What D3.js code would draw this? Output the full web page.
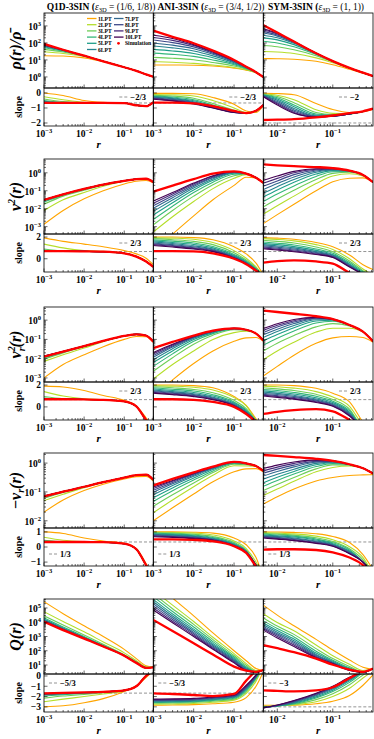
<!DOCTYPE html>
<html>
<head>
<meta charset="utf-8">
<script src="https://cdn.jsdelivr.net/npm/d3@7"></script>
<style>
  body { margin: 0; background: #fff; }
  svg { display: block; }
  text { font-family: "Liberation Serif", "Times New Roman", serif; font-weight: bold; fill: #000; }
</style>
</head>
<body>
<script>
// radius grids (Q1D / ANI share one, SYM starts later)
var rA = [0.001, 0.003, 0.01, 0.03, 0.1, 0.2, 0.35, 0.53];
var rB = [0.0056, 0.01, 0.02, 0.05, 0.1, 0.2, 0.35, 0.53];

var lptNames = ['1LPT', '2LPT', '3LPT', '4LPT', '5LPT', '6LPT', '7LPT', '8LPT', '9LPT', '10LPT'];
var lptColors = ['#ffa500', '#b5de2b', '#6ece58', '#35b779', '#1f9e89', '#26828e', '#31688e', '#3e4989', '#482878', '#440154'];
var columnNames = ['Q1D-3SIN', 'ANI-3SIN', 'SYM-3SIN'];
var columnEps = ['(1/6, 1/8))', '(3/4, 1/2))', '(1, 1))'];

// ---- row 1: density, log10 values ----
var rhoQ1DLog = [
  [1.25, 1.23, 1.12, 0.90, 0.58, 0.37, 0.16, 0.02],
  [1.48, 1.38, 1.20, 0.92, 0.57, 0.36, 0.15, 0.01],
  [1.62, 1.47, 1.23, 0.92, 0.57, 0.36, 0.15, 0.01],
  [1.72, 1.52, 1.24, 0.92, 0.57, 0.36, 0.15, 0.01],
  [1.78, 1.55, 1.25, 0.92, 0.57, 0.36, 0.15, 0.01],
  [1.82, 1.56, 1.25, 0.92, 0.57, 0.36, 0.15, 0.01],
  [1.85, 1.57, 1.25, 0.92, 0.57, 0.36, 0.15, 0.01],
  [1.87, 1.58, 1.25, 0.92, 0.57, 0.36, 0.15, 0.01],
  [1.89, 1.59, 1.25, 0.92, 0.57, 0.36, 0.15, 0.01],
  [1.90, 1.59, 1.25, 0.92, 0.57, 0.36, 0.15, 0.01]];
var rhoQ1DSimLog = [1.94, 1.60, 1.25, 0.92, 0.57, 0.36, 0.15, 0.01];
var rhoANILog = [
  [0.70, 0.70, 0.69, 0.64, 0.52, 0.40, 0.24, 0.00],
  [0.90, 0.86, 0.80, 0.70, 0.56, 0.42, 0.25, 0.00],
  [1.15, 1.10, 1.01, 0.85, 0.64, 0.46, 0.26, 0.00],
  [1.40, 1.33, 1.21, 1.00, 0.72, 0.50, 0.27, 0.00],
  [1.62, 1.53, 1.38, 1.13, 0.78, 0.53, 0.28, 0.00],
  [1.82, 1.71, 1.53, 1.24, 0.84, 0.55, 0.28, 0.00],
  [2.00, 1.87, 1.66, 1.33, 0.88, 0.57, 0.28, 0.00],
  [2.17, 2.02, 1.77, 1.40, 0.92, 0.58, 0.28, 0.00],
  [2.32, 2.15, 1.85, 1.45, 0.95, 0.59, 0.28, 0.00],
  [2.45, 2.26, 1.90, 1.49, 0.97, 0.60, 0.28, 0.00]];
var rhoANISimLog = [2.72, 2.36, 1.98, 1.55, 1.00, 0.60, 0.28, 0.00];
var rhoSYMLog = [
  [1.08, 1.07, 1.04, 0.92, 0.72, 0.45, 0.22, 0.04],
  [1.50, 1.47, 1.38, 1.12, 0.84, 0.50, 0.24, 0.05],
  [1.85, 1.78, 1.60, 1.25, 0.89, 0.52, 0.25, 0.05],
  [2.10, 2.00, 1.78, 1.32, 0.91, 0.53, 0.25, 0.05],
  [2.30, 2.18, 1.90, 1.36, 0.92, 0.53, 0.25, 0.05],
  [2.45, 2.30, 1.98, 1.38, 0.93, 0.53, 0.25, 0.05],
  [2.58, 2.40, 2.03, 1.39, 0.93, 0.53, 0.25, 0.05],
  [2.68, 2.47, 2.06, 1.39, 0.93, 0.53, 0.25, 0.05],
  [2.76, 2.53, 2.07, 1.39, 0.93, 0.53, 0.25, 0.05],
  [2.83, 2.57, 2.08, 1.39, 0.93, 0.53, 0.25, 0.05]];
var rhoSYMSimLog = [3.05, 2.61, 2.08, 1.39, 0.93, 0.53, 0.25, 0.05];

var rhoSlopeQ1D = [
  [0.00, -0.17, -0.50, -0.63, -0.68, -0.82, -0.88, -0.62],
  [-0.25, -0.45, -0.62, -0.66, -0.68, -0.82, -0.88, -0.62],
  [-0.40, -0.58, -0.65, -0.66, -0.68, -0.82, -0.88, -0.62],
  [-0.50, -0.63, -0.66, -0.66, -0.68, -0.82, -0.88, -0.62],
  [-0.56, -0.65, -0.66, -0.66, -0.68, -0.82, -0.88, -0.62],
  [-0.60, -0.66, -0.66, -0.66, -0.68, -0.82, -0.88, -0.62],
  [-0.62, -0.66, -0.66, -0.66, -0.68, -0.82, -0.88, -0.62],
  [-0.63, -0.66, -0.66, -0.66, -0.68, -0.82, -0.88, -0.62],
  [-0.64, -0.66, -0.66, -0.66, -0.68, -0.82, -0.88, -0.62],
  [-0.65, -0.66, -0.66, -0.66, -0.68, -0.82, -0.88, -0.62]];
var rhoSlopeQ1DSim = [-0.66, -0.66, -0.66, -0.66, -0.68, -0.82, -0.88, -0.62];
var rhoSlopeANI = [
  [-0.03, -0.03, -0.05, -0.30, -0.75, -1.20, -1.30, -0.85],
  [-0.10, -0.12, -0.20, -0.50, -1.00, -1.30, -1.25, -0.82],
  [-0.15, -0.20, -0.35, -0.70, -1.15, -1.32, -1.20, -0.82],
  [-0.20, -0.27, -0.45, -0.80, -1.20, -1.33, -1.19, -0.81],
  [-0.24, -0.33, -0.52, -0.87, -1.24, -1.34, -1.18, -0.80],
  [-0.28, -0.38, -0.58, -0.92, -1.26, -1.34, -1.18, -0.80],
  [-0.32, -0.43, -0.63, -0.95, -1.28, -1.34, -1.18, -0.80],
  [-0.35, -0.47, -0.67, -0.97, -1.29, -1.34, -1.18, -0.80],
  [-0.38, -0.50, -0.70, -0.99, -1.30, -1.34, -1.18, -0.80],
  [-0.42, -0.53, -0.73, -1.00, -1.30, -1.34, -1.18, -0.80]];
var rhoSlopeANISim = [-0.65, -0.65, -0.70, -0.88, -1.20, -1.34, -1.18, -0.80];
var rhoSlopeSYM = [
  [-0.02, -0.04, -0.12, -0.70, -1.10, -1.30, -1.25, -1.08],
  [-0.07, -0.15, -0.45, -1.12, -1.36, -1.38, -1.24, -1.06],
  [-0.10, -0.24, -0.65, -1.30, -1.43, -1.39, -1.23, -1.05],
  [-0.12, -0.32, -0.80, -1.40, -1.47, -1.40, -1.23, -1.05],
  [-0.14, -0.40, -0.92, -1.47, -1.50, -1.40, -1.23, -1.05],
  [-0.16, -0.48, -1.03, -1.52, -1.52, -1.40, -1.23, -1.05],
  [-0.18, -0.57, -1.13, -1.56, -1.53, -1.40, -1.23, -1.05],
  [-0.20, -0.65, -1.22, -1.58, -1.54, -1.40, -1.23, -1.05],
  [-0.23, -0.72, -1.30, -1.60, -1.55, -1.40, -1.23, -1.05],
  [-0.25, -0.80, -1.35, -1.60, -1.55, -1.40, -1.23, -1.05]];
var rhoSlopeSYMSim = [-1.80, -1.78, -1.74, -1.62, -1.50, -1.35, -1.22, -1.05];

// ---- row 2: v^2 ----
var v2Q1DLog = [
  [-2.87, -2.10, -1.45, -1.00, -0.62, -0.47, -0.43, -0.56],
  [-2.10, -1.50, -1.10, -0.75, -0.47, -0.36, -0.34, -0.53],
  [-1.75, -1.30, -0.97, -0.68, -0.46, -0.35, -0.33, -0.52],
  [-1.62, -1.25, -0.93, -0.67, -0.45, -0.35, -0.33, -0.52],
  [-1.56, -1.22, -0.91, -0.66, -0.45, -0.35, -0.33, -0.52],
  [-1.53, -1.21, -0.90, -0.66, -0.45, -0.35, -0.33, -0.52],
  [-1.52, -1.20, -0.90, -0.66, -0.45, -0.35, -0.33, -0.52],
  [-1.51, -1.20, -0.90, -0.66, -0.45, -0.35, -0.33, -0.52],
  [-1.50, -1.19, -0.90, -0.66, -0.45, -0.35, -0.33, -0.52],
  [-1.49, -1.19, -0.89, -0.66, -0.45, -0.35, -0.33, -0.52]];
var v2Q1DSimLog = [-1.51, -1.20, -0.90, -0.66, -0.45, -0.35, -0.33, -0.52];
var v2ANILog = [
  [-4.40, -3.42, -2.40, -1.50, -0.70, -0.25, -0.28, -0.56],
  [-3.30, -2.45, -1.60, -0.88, -0.30, -0.10, -0.27, -0.56],
  [-2.90, -2.10, -1.30, -0.66, -0.16, -0.06, -0.28, -0.56],
  [-2.60, -1.86, -1.10, -0.52, -0.08, -0.05, -0.28, -0.56],
  [-2.35, -1.67, -0.96, -0.42, -0.02, -0.04, -0.28, -0.56],
  [-2.15, -1.52, -0.85, -0.34, 0.01, -0.04, -0.28, -0.56],
  [-1.98, -1.39, -0.76, -0.28, 0.03, -0.04, -0.28, -0.56],
  [-1.83, -1.28, -0.69, -0.23, 0.05, -0.04, -0.28, -0.56],
  [-1.70, -1.18, -0.62, -0.19, 0.06, -0.04, -0.28, -0.56],
  [-1.58, -1.10, -0.57, -0.16, 0.07, -0.04, -0.28, -0.56]];
var v2ANISimLog = [-1.05, -0.71, -0.35, -0.05, 0.08, -0.04, -0.28, -0.56];
var v2SYMLog = [
  [-2.83, -2.33, -1.75, -1.00, -0.50, -0.30, -0.28, -0.52],
  [-2.30, -1.83, -1.30, -0.60, -0.18, -0.05, -0.18, -0.52],
  [-1.90, -1.46, -0.97, -0.37, -0.03, 0.03, -0.13, -0.52],
  [-1.60, -1.18, -0.73, -0.20, 0.06, 0.07, -0.12, -0.52],
  [-1.35, -0.96, -0.53, -0.07, 0.12, 0.09, -0.12, -0.52],
  [-1.13, -0.77, -0.37, 0.03, 0.16, 0.10, -0.12, -0.52],
  [-0.93, -0.60, -0.23, 0.10, 0.19, 0.11, -0.12, -0.52],
  [-0.75, -0.45, -0.10, 0.16, 0.21, 0.12, -0.12, -0.52],
  [-0.58, -0.31, 0.00, 0.20, 0.23, 0.12, -0.12, -0.52],
  [-0.42, -0.18, 0.08, 0.23, 0.24, 0.12, -0.12, -0.52]];
var v2SYMSimLog = [0.47, 0.42, 0.37, 0.32, 0.26, 0.12, -0.12, -0.52];

var v2SlopeQ1D = [
  [1.92, 1.60, 1.35, 1.10, 0.75, 0.45, 0.05, -0.55],
  [1.35, 1.00, 0.75, 0.68, 0.52, 0.22, -0.22, -0.72],
  [0.90, 0.73, 0.69, 0.66, 0.50, 0.20, -0.25, -0.75],
  [0.80, 0.70, 0.68, 0.65, 0.50, 0.20, -0.25, -0.75],
  [0.75, 0.70, 0.68, 0.65, 0.50, 0.20, -0.25, -0.75],
  [0.73, 0.70, 0.68, 0.65, 0.50, 0.20, -0.25, -0.75],
  [0.72, 0.70, 0.68, 0.65, 0.50, 0.20, -0.25, -0.75],
  [0.72, 0.70, 0.68, 0.65, 0.50, 0.20, -0.25, -0.75],
  [0.71, 0.70, 0.68, 0.65, 0.50, 0.20, -0.25, -0.75],
  [0.71, 0.70, 0.68, 0.65, 0.50, 0.20, -0.25, -0.75]];
var v2SlopeQ1DSim = [0.70, 0.70, 0.68, 0.65, 0.50, 0.20, -0.25, -0.75];
var v2SlopeANI = [
  [2.00, 2.00, 1.95, 1.75, 1.10, 0.45, -0.40, -1.50],
  [1.95, 1.90, 1.80, 1.50, 0.75, 0.05, -0.75, -1.60],
  [1.85, 1.75, 1.60, 1.30, 0.55, -0.12, -0.85, -1.60],
  [1.75, 1.62, 1.45, 1.12, 0.40, -0.22, -0.92, -1.60],
  [1.65, 1.50, 1.32, 1.00, 0.30, -0.30, -0.97, -1.60],
  [1.55, 1.40, 1.20, 0.90, 0.22, -0.35, -1.00, -1.60],
  [1.45, 1.30, 1.10, 0.82, 0.16, -0.40, -1.03, -1.60],
  [1.37, 1.22, 1.02, 0.76, 0.12, -0.42, -1.05, -1.60],
  [1.30, 1.15, 0.96, 0.70, 0.08, -0.45, -1.07, -1.60],
  [1.22, 1.08, 0.90, 0.66, 0.05, -0.47, -1.08, -1.60]];
var v2SlopeANISim = [0.70, 0.70, 0.68, 0.50, 0.00, -0.50, -1.10, -1.60];
var v2SlopeSYM = [
  [1.95, 1.90, 1.80, 1.50, 1.10, 0.35, -0.55, -1.00],
  [1.85, 1.78, 1.65, 1.30, 0.85, 0.00, -0.95, -1.50],
  [1.70, 1.60, 1.45, 1.08, 0.65, -0.20, -1.10, -1.70],
  [1.55, 1.43, 1.27, 0.90, 0.50, -0.35, -1.20, -1.70],
  [1.42, 1.30, 1.12, 0.77, 0.40, -0.47, -1.30, -1.70],
  [1.30, 1.18, 1.00, 0.66, 0.32, -0.55, -1.35, -1.70],
  [1.20, 1.07, 0.90, 0.57, 0.25, -0.62, -1.40, -1.70],
  [1.10, 0.97, 0.80, 0.50, 0.20, -0.68, -1.40, -1.70],
  [1.00, 0.88, 0.72, 0.44, 0.15, -0.72, -1.40, -1.70],
  [0.92, 0.80, 0.65, 0.39, 0.11, -0.76, -1.40, -1.70]];
var v2SlopeSYMSim = [-0.35, -0.22, -0.15, -0.25, -0.45, -1.30, -1.80, -2.00];

// ---- row 3: v_r^2 ----
var vr2Q1DLog = [
  [-3.00, -2.30, -1.80, -1.38, -1.00, -0.85, -0.86, -1.15],
  [-2.14, -1.80, -1.45, -1.12, -0.84, -0.75, -0.80, -1.12],
  [-2.02, -1.70, -1.38, -1.09, -0.83, -0.74, -0.80, -1.12],
  [-1.96, -1.66, -1.36, -1.08, -0.82, -0.74, -0.80, -1.12],
  [-1.93, -1.64, -1.35, -1.08, -0.82, -0.74, -0.80, -1.12],
  [-1.90, -1.63, -1.35, -1.08, -0.82, -0.74, -0.80, -1.12],
  [-1.89, -1.63, -1.35, -1.08, -0.82, -0.74, -0.80, -1.12],
  [-1.88, -1.63, -1.35, -1.08, -0.82, -0.74, -0.80, -1.12],
  [-1.87, -1.63, -1.35, -1.08, -0.82, -0.74, -0.80, -1.12],
  [-1.86, -1.62, -1.35, -1.08, -0.82, -0.74, -0.80, -1.12]];
var vr2Q1DSimLog = [-1.90, -1.63, -1.35, -1.08, -0.82, -0.74, -0.80, -1.12];
var vr2ANILog = [
  [-3.95, -3.10, -2.25, -1.60, -1.10, -0.92, -0.90, -1.10],
  [-3.05, -2.30, -1.60, -1.00, -0.65, -0.58, -0.70, -1.07],
  [-2.65, -1.95, -1.25, -0.78, -0.50, -0.52, -0.70, -1.05],
  [-2.40, -1.75, -1.10, -0.70, -0.47, -0.51, -0.70, -1.05],
  [-2.20, -1.60, -1.00, -0.65, -0.45, -0.50, -0.70, -1.05],
  [-2.05, -1.48, -0.94, -0.61, -0.44, -0.50, -0.70, -1.05],
  [-1.93, -1.40, -0.90, -0.59, -0.44, -0.50, -0.70, -1.05],
  [-1.83, -1.34, -0.87, -0.58, -0.43, -0.50, -0.70, -1.05],
  [-1.75, -1.29, -0.85, -0.57, -0.43, -0.50, -0.70, -1.05],
  [-1.68, -1.25, -0.84, -0.56, -0.43, -0.50, -0.70, -1.05]];
var vr2ANISimLog = [-1.45, -1.13, -0.80, -0.55, -0.43, -0.50, -0.70, -1.05];
var vr2SYMLog = [
  [-2.90, -2.40, -1.82, -1.20, -0.92, -0.85, -0.90, -1.15],
  [-2.05, -1.60, -1.15, -0.62, -0.42, -0.42, -0.62, -1.10],
  [-1.60, -1.20, -0.80, -0.35, -0.18, -0.30, -0.60, -1.10],
  [-1.30, -0.94, -0.56, -0.15, -0.06, -0.26, -0.60, -1.10],
  [-1.08, -0.75, -0.40, -0.05, -0.01, -0.26, -0.60, -1.10],
  [-0.90, -0.59, -0.28, 0.02, 0.02, -0.26, -0.60, -1.10],
  [-0.76, -0.47, -0.18, 0.07, 0.03, -0.26, -0.60, -1.10],
  [-0.64, -0.36, -0.10, 0.10, 0.04, -0.26, -0.60, -1.10],
  [-0.53, -0.27, -0.03, 0.12, 0.04, -0.26, -0.60, -1.10],
  [-0.44, -0.19, 0.03, 0.14, 0.05, -0.26, -0.60, -1.10]];
var vr2SYMSimLog = [0.49, 0.42, 0.33, 0.20, 0.05, -0.25, -0.60, -1.10];

var vr2SlopeQ1D = [
  [1.90, 1.82, 1.50, 1.05, 0.60, 0.10, -1.00, -1.90],
  [1.40, 1.00, 0.75, 0.66, 0.50, 0.05, -1.20, -2.00],
  [0.95, 0.75, 0.68, 0.65, 0.50, 0.05, -1.20, -2.00],
  [0.82, 0.70, 0.68, 0.65, 0.50, 0.05, -1.20, -2.00],
  [0.76, 0.70, 0.68, 0.65, 0.50, 0.05, -1.20, -2.00],
  [0.73, 0.70, 0.68, 0.65, 0.50, 0.05, -1.20, -2.00],
  [0.72, 0.70, 0.68, 0.65, 0.50, 0.05, -1.20, -2.00],
  [0.71, 0.70, 0.68, 0.65, 0.50, 0.05, -1.20, -2.00],
  [0.71, 0.70, 0.68, 0.65, 0.50, 0.05, -1.20, -2.00],
  [0.70, 0.70, 0.68, 0.65, 0.50, 0.05, -1.20, -2.00]];
var vr2SlopeQ1DSim = [0.70, 0.70, 0.68, 0.65, 0.50, 0.05, -1.20, -2.00];
var vr2SlopeANI = [
  [2.00, 2.00, 1.95, 1.75, 0.95, 0.15, -1.10, -2.00],
  [1.95, 1.90, 1.80, 1.55, 0.85, 0.10, -1.20, -2.00],
  [1.85, 1.75, 1.60, 1.30, 0.60, -0.15, -1.25, -2.00],
  [1.75, 1.62, 1.45, 1.12, 0.45, -0.28, -1.28, -2.00],
  [1.65, 1.50, 1.32, 0.99, 0.35, -0.37, -1.30, -2.00],
  [1.55, 1.40, 1.21, 0.89, 0.27, -0.44, -1.30, -2.00],
  [1.47, 1.32, 1.12, 0.81, 0.20, -0.50, -1.30, -2.00],
  [1.40, 1.25, 1.05, 0.75, 0.15, -0.54, -1.30, -2.00],
  [1.32, 1.18, 0.99, 0.70, 0.11, -0.58, -1.30, -2.00],
  [1.25, 1.12, 0.94, 0.66, 0.08, -0.60, -1.30, -2.00]];
var vr2SlopeANISim = [0.70, 0.70, 0.65, 0.45, 0.00, -0.65, -1.40, -2.00];
var vr2SlopeSYM = [
  [2.00, 2.00, 1.95, 1.70, 1.25, 0.45, -1.40, -2.50],
  [1.90, 1.85, 1.72, 1.40, 0.90, 0.05, -1.70, -2.50],
  [1.75, 1.65, 1.50, 1.15, 0.68, -0.20, -2.00, -2.50],
  [1.60, 1.50, 1.32, 0.97, 0.52, -0.35, -2.00, -2.50],
  [1.47, 1.36, 1.18, 0.83, 0.40, -0.47, -2.00, -2.50],
  [1.35, 1.24, 1.06, 0.72, 0.30, -0.57, -2.00, -2.50],
  [1.25, 1.13, 0.95, 0.62, 0.22, -0.65, -2.00, -2.50],
  [1.15, 1.03, 0.86, 0.54, 0.15, -0.72, -2.00, -2.50],
  [1.07, 0.95, 0.78, 0.47, 0.10, -0.78, -2.00, -2.50],
  [1.00, 0.87, 0.71, 0.41, 0.05, -0.83, -2.00, -2.50]];
var vr2SlopeSYMSim = [-0.65, -0.45, -0.30, -0.20, -0.40, -1.20, -2.00, -2.50];

// ---- row 4: -v_r ----
var vrQ1DLog = [
  [-1.70, -1.28, -0.95, -0.73, -0.55, -0.47, -0.46, -0.62],
  [-1.30, -1.08, -0.85, -0.67, -0.50, -0.42, -0.40, -0.58],
  [-1.22, -1.02, -0.83, -0.66, -0.50, -0.42, -0.40, -0.58],
  [-1.19, -1.00, -0.82, -0.66, -0.50, -0.42, -0.40, -0.58],
  [-1.17, -0.99, -0.82, -0.66, -0.50, -0.42, -0.40, -0.58],
  [-1.16, -0.99, -0.82, -0.66, -0.50, -0.42, -0.40, -0.58],
  [-1.16, -0.99, -0.82, -0.66, -0.50, -0.42, -0.40, -0.58],
  [-1.15, -0.99, -0.82, -0.66, -0.50, -0.42, -0.40, -0.58],
  [-1.15, -0.99, -0.82, -0.66, -0.50, -0.42, -0.40, -0.58],
  [-1.14, -0.99, -0.82, -0.66, -0.50, -0.42, -0.40, -0.58]];
var vrQ1DSimLog = [-1.16, -0.99, -0.82, -0.66, -0.50, -0.42, -0.40, -0.58];
var vrANILog = [
  [-2.00, -1.55, -1.07, -0.65, -0.30, -0.20, -0.19, -0.30],
  [-1.72, -1.28, -0.82, -0.42, -0.09, -0.10, -0.12, -0.27],
  [-1.50, -1.10, -0.69, -0.33, -0.04, -0.06, -0.10, -0.27],
  [-1.33, -0.96, -0.59, -0.27, -0.01, -0.03, -0.10, -0.27],
  [-1.20, -0.86, -0.52, -0.22, 0.01, -0.02, -0.10, -0.27],
  [-1.10, -0.78, -0.46, -0.19, 0.02, -0.01, -0.10, -0.27],
  [-1.01, -0.72, -0.42, -0.17, 0.03, -0.01, -0.10, -0.27],
  [-0.94, -0.67, -0.39, -0.15, 0.03, -0.01, -0.10, -0.27],
  [-0.88, -0.63, -0.37, -0.14, 0.04, -0.01, -0.10, -0.27],
  [-0.83, -0.60, -0.35, -0.13, 0.04, -0.01, -0.10, -0.27]];
var vrANISimLog = [-0.77, -0.55, -0.32, -0.12, 0.04, -0.01, -0.10, -0.27];
var vrSYMLog = [
  [-1.42, -1.17, -0.90, -0.62, -0.50, -0.43, -0.41, -0.40],
  [-1.12, -0.90, -0.63, -0.30, -0.15, -0.10, -0.18, -0.36],
  [-0.95, -0.74, -0.50, -0.20, -0.06, -0.07, -0.18, -0.36],
  [-0.80, -0.60, -0.38, -0.12, -0.02, -0.05, -0.18, -0.36],
  [-0.68, -0.49, -0.29, -0.06, 0.01, -0.05, -0.18, -0.36],
  [-0.56, -0.39, -0.21, -0.01, 0.03, -0.05, -0.18, -0.36],
  [-0.45, -0.29, -0.13, 0.03, 0.05, -0.05, -0.18, -0.36],
  [-0.35, -0.21, -0.07, 0.06, 0.06, -0.05, -0.18, -0.36],
  [-0.27, -0.14, -0.01, 0.09, 0.07, -0.05, -0.18, -0.36],
  [-0.19, -0.07, 0.04, 0.11, 0.08, -0.05, -0.18, -0.36]];
var vrSYMSimLog = [0.28, 0.25, 0.21, 0.15, 0.08, -0.04, -0.18, -0.36];

var vrSlopeQ1D = [
  [1.00, 0.90, 0.60, 0.40, 0.25, -0.10, -1.10, -2.00],
  [0.65, 0.45, 0.36, 0.33, 0.22, -0.15, -1.20, -2.00],
  [0.45, 0.36, 0.34, 0.33, 0.22, -0.15, -1.20, -2.00],
  [0.40, 0.35, 0.33, 0.32, 0.22, -0.15, -1.20, -2.00],
  [0.37, 0.34, 0.33, 0.32, 0.22, -0.15, -1.20, -2.00],
  [0.36, 0.34, 0.33, 0.32, 0.22, -0.15, -1.20, -2.00],
  [0.35, 0.34, 0.33, 0.32, 0.22, -0.15, -1.20, -2.00],
  [0.35, 0.33, 0.33, 0.32, 0.22, -0.15, -1.20, -2.00],
  [0.34, 0.33, 0.33, 0.32, 0.22, -0.15, -1.20, -2.00],
  [0.34, 0.33, 0.33, 0.32, 0.22, -0.15, -1.20, -2.00]];
var vrSlopeQ1DSim = [0.33, 0.33, 0.33, 0.32, 0.22, -0.15, -1.20, -2.00];
var vrSlopeANI = [
  [1.00, 1.00, 0.98, 0.92, 0.60, 0.15, -0.70, -2.00],
  [0.98, 0.96, 0.92, 0.80, 0.40, -0.10, -1.00, -2.00],
  [0.95, 0.92, 0.85, 0.70, 0.30, -0.20, -1.20, -2.00],
  [0.92, 0.87, 0.79, 0.63, 0.23, -0.25, -1.20, -2.00],
  [0.88, 0.82, 0.74, 0.58, 0.18, -0.28, -1.20, -2.00],
  [0.84, 0.78, 0.70, 0.54, 0.15, -0.30, -1.20, -2.00],
  [0.80, 0.74, 0.66, 0.50, 0.12, -0.32, -1.20, -2.00],
  [0.76, 0.70, 0.62, 0.48, 0.10, -0.34, -1.20, -2.00],
  [0.72, 0.67, 0.59, 0.46, 0.08, -0.35, -1.20, -2.00],
  [0.68, 0.64, 0.56, 0.44, 0.07, -0.36, -1.20, -2.00]];
var vrSlopeANISim = [0.50, 0.50, 0.47, 0.38, 0.05, -0.40, -1.30, -2.00];
var vrSlopeSYM = [
  [1.00, 0.99, 0.97, 0.88, 0.70, 0.30, -0.50, -1.50],
  [0.95, 0.92, 0.87, 0.72, 0.48, 0.02, -0.70, -1.80],
  [0.90, 0.86, 0.79, 0.61, 0.36, -0.12, -0.85, -1.80],
  [0.85, 0.80, 0.72, 0.53, 0.28, -0.20, -1.00, -1.80],
  [0.80, 0.74, 0.66, 0.46, 0.22, -0.27, -1.00, -1.80],
  [0.75, 0.69, 0.60, 0.40, 0.17, -0.32, -1.00, -1.80],
  [0.71, 0.64, 0.55, 0.35, 0.13, -0.36, -1.00, -1.80],
  [0.67, 0.60, 0.50, 0.31, 0.10, -0.40, -1.00, -1.80],
  [0.63, 0.56, 0.46, 0.27, 0.07, -0.43, -1.00, -1.80],
  [0.60, 0.52, 0.42, 0.24, 0.05, -0.45, -1.00, -1.80]];
var vrSlopeSYMSim = [-0.17, -0.15, -0.15, -0.20, -0.35, -0.70, -1.20, -2.00];

// ---- row 5: Q ----
var qQ1DLog = [
  [5.44, 4.60, 3.75, 3.00, 2.10, 1.45, 0.95, 0.85],
  [4.74, 4.05, 3.33, 2.62, 1.85, 1.30, 0.88, 0.84],
  [4.45, 3.80, 3.10, 2.45, 1.72, 1.23, 0.84, 0.84],
  [4.30, 3.67, 3.00, 2.38, 1.68, 1.19, 0.82, 0.84],
  [4.22, 3.60, 2.95, 2.35, 1.67, 1.17, 0.81, 0.84],
  [4.17, 3.55, 2.92, 2.33, 1.66, 1.16, 0.80, 0.84],
  [4.13, 3.52, 2.90, 2.32, 1.66, 1.16, 0.80, 0.84],
  [4.10, 3.50, 2.88, 2.31, 1.65, 1.15, 0.80, 0.84],
  [4.08, 3.48, 2.87, 2.30, 1.65, 1.15, 0.80, 0.84],
  [4.06, 3.47, 2.86, 2.30, 1.65, 1.15, 0.80, 0.84]];
var qQ1DSimLog = [4.04, 3.45, 2.85, 2.30, 1.65, 1.15, 0.80, 0.84];
var qANILog = [
  [6.90, 5.70, 4.45, 3.25, 2.00, 1.30, 0.75, 0.60],
  [6.25, 5.20, 4.05, 2.95, 1.80, 1.10, 0.62, 0.62],
  [6.00, 4.95, 3.85, 2.78, 1.67, 0.98, 0.56, 0.63],
  [5.80, 4.75, 3.67, 2.64, 1.56, 0.88, 0.52, 0.64],
  [5.60, 4.58, 3.52, 2.52, 1.47, 0.80, 0.50, 0.65],
  [5.45, 4.44, 3.40, 2.42, 1.39, 0.74, 0.49, 0.65],
  [5.30, 4.31, 3.29, 2.33, 1.32, 0.69, 0.48, 0.65],
  [5.15, 4.19, 3.19, 2.25, 1.26, 0.65, 0.48, 0.65],
  [5.00, 4.07, 3.09, 2.17, 1.20, 0.62, 0.48, 0.65],
  [4.86, 3.96, 3.00, 2.10, 1.15, 0.60, 0.48, 0.65]];
var qANISimLog = [4.16, 3.38, 2.53, 1.74, 0.89, 0.60, 0.52, 0.65];
var qSYMLog = [
  [5.20, 4.50, 3.75, 2.80, 2.05, 1.35, 0.85, 0.70],
  [4.60, 3.98, 3.40, 2.40, 1.65, 1.05, 0.62, 0.72],
  [4.30, 3.73, 3.15, 2.15, 1.45, 0.90, 0.53, 0.74],
  [4.10, 3.56, 2.97, 1.97, 1.33, 0.80, 0.50, 0.75],
  [3.95, 3.42, 2.82, 1.84, 1.26, 0.74, 0.49, 0.75],
  [3.82, 3.30, 2.70, 1.74, 1.20, 0.70, 0.49, 0.75],
  [3.71, 3.20, 2.60, 1.66, 1.16, 0.67, 0.49, 0.75],
  [3.62, 3.10, 2.50, 1.60, 1.13, 0.65, 0.50, 0.75],
  [3.53, 3.00, 2.40, 1.55, 1.10, 0.63, 0.50, 0.75],
  [3.45, 2.90, 2.30, 1.50, 1.08, 0.62, 0.50, 0.75]];
var qSYMSimLog = [2.40, 2.18, 1.90, 1.45, 1.02, 0.68, 0.52, 0.75];

var qSlopeQ1D = [
  [-3.00, -2.90, -2.60, -2.20, -1.50, -0.95, -0.15, 0.50],
  [-2.50, -2.25, -2.00, -1.75, -1.45, -1.00, -0.05, 0.50],
  [-2.15, -1.95, -1.80, -1.62, -1.42, -1.00, 0.00, 0.50],
  [-1.95, -1.82, -1.70, -1.58, -1.40, -1.00, 0.00, 0.50],
  [-1.85, -1.75, -1.65, -1.56, -1.40, -1.00, 0.00, 0.50],
  [-1.80, -1.72, -1.63, -1.55, -1.40, -1.00, 0.00, 0.50],
  [-1.77, -1.70, -1.62, -1.55, -1.40, -1.00, 0.00, 0.50],
  [-1.75, -1.68, -1.61, -1.55, -1.40, -1.00, 0.00, 0.50],
  [-1.73, -1.67, -1.60, -1.55, -1.40, -1.00, 0.00, 0.50],
  [-1.72, -1.66, -1.60, -1.55, -1.40, -1.00, 0.00, 0.50]];
var qSlopeQ1DSim = [-1.70, -1.65, -1.60, -1.55, -1.40, -1.00, 0.00, 0.50];
var qSlopeANI = [
  [-2.85, -2.82, -2.78, -2.70, -2.55, -2.10, -1.00, 0.40],
  [-2.75, -2.72, -2.67, -2.55, -2.35, -1.70, -0.50, 1.00],
  [-2.65, -2.63, -2.58, -2.45, -2.25, -1.52, -0.30, 1.00],
  [-2.58, -2.56, -2.50, -2.37, -2.17, -1.40, -0.22, 1.00],
  [-2.52, -2.50, -2.44, -2.30, -2.10, -1.30, -0.15, 1.00],
  [-2.46, -2.44, -2.38, -2.24, -2.05, -1.22, -0.10, 1.00],
  [-2.40, -2.38, -2.32, -2.18, -2.00, -1.15, -0.05, 1.00],
  [-2.35, -2.33, -2.27, -2.13, -1.95, -1.08, 0.00, 1.00],
  [-2.30, -2.28, -2.22, -2.08, -1.90, -1.00, 0.05, 1.00],
  [-2.25, -2.23, -2.18, -2.04, -1.85, -0.90, 0.10, 1.00]];
var qSlopeANISim = [-1.70, -1.75, -1.85, -1.95, -1.75, -0.45, 0.50, 1.00];
var qSlopeSYM = [
  [-2.85, -2.85, -2.83, -2.70, -2.45, -1.90, -0.90, 0.10],
  [-2.95, -2.90, -2.80, -2.50, -2.00, -1.20, -0.20, 0.50],
  [-3.00, -2.92, -2.75, -2.30, -1.72, -0.85, 0.10, 0.70],
  [-3.03, -2.92, -2.70, -2.15, -1.52, -0.62, 0.30, 0.80],
  [-3.05, -2.92, -2.64, -2.03, -1.38, -0.48, 0.40, 0.80],
  [-3.07, -2.90, -2.58, -1.93, -1.27, -0.37, 0.40, 0.80],
  [-3.08, -2.88, -2.52, -1.85, -1.18, -0.29, 0.40, 0.80],
  [-3.09, -2.86, -2.47, -1.78, -1.11, -0.22, 0.40, 0.80],
  [-3.10, -2.84, -2.42, -1.72, -1.05, -0.17, 0.40, 0.80],
  [-3.10, -2.82, -2.38, -1.67, -1.00, -0.13, 0.40, 0.80]];
var qSlopeSYMSim = [-1.40, -1.45, -1.50, -1.40, -1.10, -0.20, 0.50, 0.80];

// reference power laws shown as dashed lines in the slope panels
var refSlopes = [[-2 / 3, -2 / 3, -2], [2 / 3, 2 / 3, 2 / 3], [2 / 3, 2 / 3, 2 / 3], [1 / 3, 1 / 3, 1 / 3], [-5 / 3, -5 / 3, -3]];
var refLabels = [['\u22122/3', '\u22122/3', '\u22122'], ['2/3', '2/3', '2/3'], ['2/3', '2/3', '2/3'], ['1/3', '1/3', '1/3'], ['\u22125/3', '\u22125/3', '\u22123']];

// ------------------------------------------------------------------
var W = 374, H = 739;
var colLeft = [44, 153.3, 263.3], colRight = [153.3, 263.3, 373];
var rowTop = [13, 159, 307, 453, 599];
var mainH = 75, slopeH = 38;
var grids = [rA, rA, rB];

var rows = [
  { main: [rhoQ1DLog, rhoANILog, rhoSYMLog], mainSim: [rhoQ1DSimLog, rhoANISimLog, rhoSYMSimLog],
    slope: [rhoSlopeQ1D, rhoSlopeANI, rhoSlopeSYM], slopeSim: [rhoSlopeQ1DSim, rhoSlopeANISim, rhoSlopeSYMSim],
    logRange: [-0.65, 3.76], slopeRange: [-2.2, 0.33], slopeTicks: [-2, -1, 0], refPos: 'topright' },
  { main: [v2Q1DLog, v2ANILog, v2SYMLog], mainSim: [v2Q1DSimLog, v2ANISimLog, v2SYMSimLog],
    slope: [v2SlopeQ1D, v2SlopeANI, v2SlopeSYM], slopeSim: [v2SlopeQ1DSim, v2SlopeANISim, v2SlopeSYMSim],
    logRange: [-3.41, 0.77], slopeRange: [-1.22, 2.28], slopeTicks: [0, 2], refPos: 'topright' },
  { main: [vr2Q1DLog, vr2ANILog, vr2SYMLog], mainSim: [vr2Q1DSimLog, vr2ANISimLog, vr2SYMSimLog],
    slope: [vr2SlopeQ1D, vr2SlopeANI, vr2SlopeSYM], slopeSim: [vr2SlopeQ1DSim, vr2SlopeANISim, vr2SlopeSYMSim],
    logRange: [-3.21, 0.68], slopeRange: [-1.2, 2.28], slopeTicks: [0, 2], refPos: 'topright' },
  { main: [vrQ1DLog, vrANILog, vrSYMLog], mainSim: [vrQ1DSimLog, vrANISimLog, vrSYMSimLog],
    slope: [vrSlopeQ1D, vrSlopeANI, vrSlopeSYM], slopeSim: [vrSlopeQ1DSim, vrSlopeANISim, vrSlopeSYMSim],
    logRange: [-2.25, 0.35], slopeRange: [-1.26, 1.26], slopeTicks: [-1, 0, 1], refPos: 'bottomleft' },
  { main: [qQ1DLog, qANILog, qSYMLog], mainSim: [qQ1DSimLog, qANISimLog, qSYMSimLog],
    slope: [qSlopeQ1D, qSlopeANI, qSlopeSYM], slopeSim: [qSlopeQ1DSim, qSlopeANISim, qSlopeSYMSim],
    logRange: [0.37, 5.63], slopeRange: [-3.5, 0.19], slopeTicks: [-3, -2, -1, 0], refPos: 'topleft' }
];

var svg = d3.select('body').append('svg').attr('width', W).attr('height', H);
svg.append('rect').attr('width', W).attr('height', H).attr('fill', '#fff');
var defs = svg.append('defs');

var xScales = [0, 1, 2].map(function(c) {
  return d3.scaleLog().domain(c < 2 ? [1e-3, 0.53] : [0.0056, 0.53]).range([colLeft[c], colRight[c]]);
});

function isDecade(v) {
  var l = Math.log10(v);
  return Math.abs(l - Math.round(l)) < 1e-6;
}

function powLabel(g, x, y, exp, anchor) {
  var t = g.append('text').attr('x', x).attr('y', y).attr('text-anchor', anchor).attr('font-size', 9.5);
  t.append('tspan').text('10');
  t.append('tspan').attr('dy', -4).attr('font-size', 6.5).text(exp < 0 ? '\u2212' + (-exp) : String(exp));
}

var clipId = 0;
function drawCurves(g, x, y, grid, lpt, sim, x0, y0, w, h, fromLog) {
  clipId++;
  defs.append('clipPath').attr('id', 'c' + clipId).append('rect').attr('x', x0).attr('y', y0).attr('width', w).attr('height', h);
  var cg = g.append('g').attr('clip-path', 'url(#c' + clipId + ')');
  var line = d3.line()
    .x(function(d, i) { return x(grid[i]); })
    .y(function(d) { return y(fromLog ? Math.pow(10, d) : d); })
    .curve(d3.curveMonotoneX);
  lpt.forEach(function(vals, k) {
    cg.append('path').attr('d', line(vals)).attr('fill', 'none').attr('stroke', lptColors[k]).attr('stroke-width', 1.1);
  });
  cg.append('path').attr('d', line(sim)).attr('fill', 'none').attr('stroke', '#ff0000').attr('stroke-width', 2.3);
  return cg;
}

function xTicks(g, x, yb, withLabels) {
  x.ticks().forEach(function(v) {
    var big = isDecade(v);
    g.append('line').attr('x1', x(v)).attr('x2', x(v)).attr('y1', yb).attr('y2', yb - (big ? 3.5 : 2))
      .attr('stroke', '#000').attr('stroke-width', 0.6);
    if (withLabels && big && x(v) > x.range()[0] - 0.5) powLabel(g, x(v), yb + 10.5, Math.round(Math.log10(v)), 'middle');
  });
}

rows.forEach(function(row, ri) {
  var top = rowTop[ri];
  var mainY = d3.scaleLog().domain([Math.pow(10, row.logRange[0]), Math.pow(10, row.logRange[1])]).range([top + mainH, top]);
  var slopeY = d3.scaleLinear().domain(row.slopeRange).range([top + mainH + slopeH, top + mainH]);

  [0, 1, 2].forEach(function(ci) {
    var x = xScales[ci], grid = grids[ci];
    var x0 = colLeft[ci], w = colRight[ci] - colLeft[ci];
    var g = svg.append('g');

    // dashed reference slope
    var ref = refSlopes[ri][ci];
    g.append('line').attr('x1', x0).attr('x2', x0 + w).attr('y1', slopeY(ref)).attr('y2', slopeY(ref))
      .attr('stroke', '#888').attr('stroke-width', 0.9).attr('stroke-dasharray', '3,2');

    drawCurves(g, x, mainY, grid, row.main[ci], row.mainSim[ci], x0, top, w, mainH, true);
    drawCurves(g, x, slopeY, grid, row.slope[ci], row.slopeSim[ci], x0, top + mainH, w, slopeH, false);

    // frames
    g.append('rect').attr('x', x0).attr('y', top).attr('width', w).attr('height', mainH)
      .attr('fill', 'none').attr('stroke', '#000').attr('stroke-width', 0.8);
    g.append('rect').attr('x', x0).attr('y', top + mainH).attr('width', w).attr('height', slopeH)
      .attr('fill', 'none').attr('stroke', '#000').attr('stroke-width', 0.8);

    // x ticks on both panels, labels under slope panel
    xTicks(g, x, top + mainH, false);
    xTicks(g, x, top + mainH + slopeH, true);

    // y ticks, main (log)
    mainY.ticks().forEach(function(v) {
      var big = isDecade(v);
      g.append('line').attr('x1', x0).attr('x2', x0 + (big ? 3.5 : 2)).attr('y1', mainY(v)).attr('y2', mainY(v))
        .attr('stroke', '#000').attr('stroke-width', 0.6);
      if (big && ci === 0) powLabel(g, x0 - 3, mainY(v) + 4, Math.round(Math.log10(v)), 'end');
    });
    // y ticks, slope (linear)
    row.slopeTicks.forEach(function(v) {
      g.append('line').attr('x1', x0).attr('x2', x0 + 3.5).attr('y1', slopeY(v)).attr('y2', slopeY(v))
        .attr('stroke', '#000').attr('stroke-width', 0.6);
      if (ci === 0) g.append('text').attr('x', x0 - 3).attr('y', slopeY(v) + 3.3).attr('text-anchor', 'end')
        .attr('font-size', 9.5).text(v < 0 ? '\u2212' + (-v) : String(v));
    });

    // dashed-line legend
    var lx, ly;
    if (row.refPos === 'topright') { lx = x0 + w - 34; ly = top + mainH + 9; }
    else if (row.refPos === 'bottomleft') { lx = x0 + 5; ly = top + mainH + 26; }
    else { lx = x0 + 5; ly = top + mainH + 9; }
    g.append('line').attr('x1', lx).attr('x2', lx + 9).attr('y1', ly).attr('y2', ly)
      .attr('stroke', '#888').attr('stroke-width', 0.9).attr('stroke-dasharray', '3,2');
    g.append('text').attr('x', lx + 11).attr('y', ly + 3).attr('font-size', 8.5).text(refLabels[ri][ci]);

    // r label
    g.append('text').attr('x', (x0 + x0 + w) / 2).attr('y', top + mainH + slopeH + 22)
      .attr('text-anchor', 'middle').attr('font-size', 11).attr('font-style', 'italic').text('r');
  });

  // y labels
  var lab = svg.append('text').attr('transform', 'translate(21,' + (top + mainH / 2) + ') rotate(-90)')
    .attr('text-anchor', 'middle').attr('font-size', 16).attr('font-style', 'italic');
  if (ri === 0) { lab.append('tspan').text('\u03c1(r)/\u03c1\u0304'); }
  if (ri === 1) { lab.append('tspan').text('v'); lab.append('tspan').attr('dy', -6).attr('font-size', 10).text('2'); lab.append('tspan').attr('dy', 6).text('(r)'); }
  if (ri === 2) {
    lab.append('tspan').text('v');
    lab.append('tspan').attr('dy', -6).attr('font-size', 10).text('2');
    lab.append('tspan').attr('dx', -5).attr('dy', 10).attr('font-size', 10).text('r');
    lab.append('tspan').attr('dy', -4).text('(r)');
  }
  if (ri === 3) { lab.append('tspan').attr('font-style', 'normal').text('\u2212'); lab.append('tspan').text('v');
    lab.append('tspan').attr('dy', 3).attr('font-size', 10).text('r'); lab.append('tspan').attr('dy', -3).text('(r)'); }
  if (ri === 4) { lab.append('tspan').text('Q(r)'); }
  svg.append('text').attr('transform', 'translate(22,' + (top + mainH + slopeH / 2) + ') rotate(-90)')
    .attr('text-anchor', 'middle').attr('font-size', 10).text('slope');
});

// column titles
[101, 211, 316].forEach(function(cx, ci) {
  var t = svg.append('text').attr('x', cx).attr('y', 9.5).attr('text-anchor', 'middle').attr('font-size', 9.5);
  t.append('tspan').text(columnNames[ci] + ' (');
  t.append('tspan').attr('font-style', 'italic').attr('font-weight', 'normal').text('\u03b5');
  t.append('tspan').attr('dy', 2).attr('font-size', 6.5).attr('font-weight', 'normal').text('3D');
  t.append('tspan').attr('dy', -2).attr('font-weight', 'normal').text(' = ' + columnEps[ci]);
});

// legend in the first panel
var leg = svg.append('g');
lptNames.forEach(function(name, k) {
  var lx = k < 6 ? 87 : 114, ly = 18.5 + (k % 6) * 6.2;
  leg.append('line').attr('x1', lx).attr('x2', lx + 9.5).attr('y1', ly).attr('y2', ly)
    .attr('stroke', lptColors[k]).attr('stroke-width', 1.3);
  leg.append('text').attr('x', lx + 11).attr('y', ly + 2).attr('font-size', 5.6).text(name);
});
leg.append('circle').attr('cx', 118.5).attr('cy', 18.5 + 4 * 6.2).attr('r', 1.4).attr('fill', '#ff0000');
leg.append('text').attr('x', 125).attr('y', 18.5 + 4 * 6.2 + 2).attr('font-size', 5.6).text('Simulation');
</script>
</body>
</html>
